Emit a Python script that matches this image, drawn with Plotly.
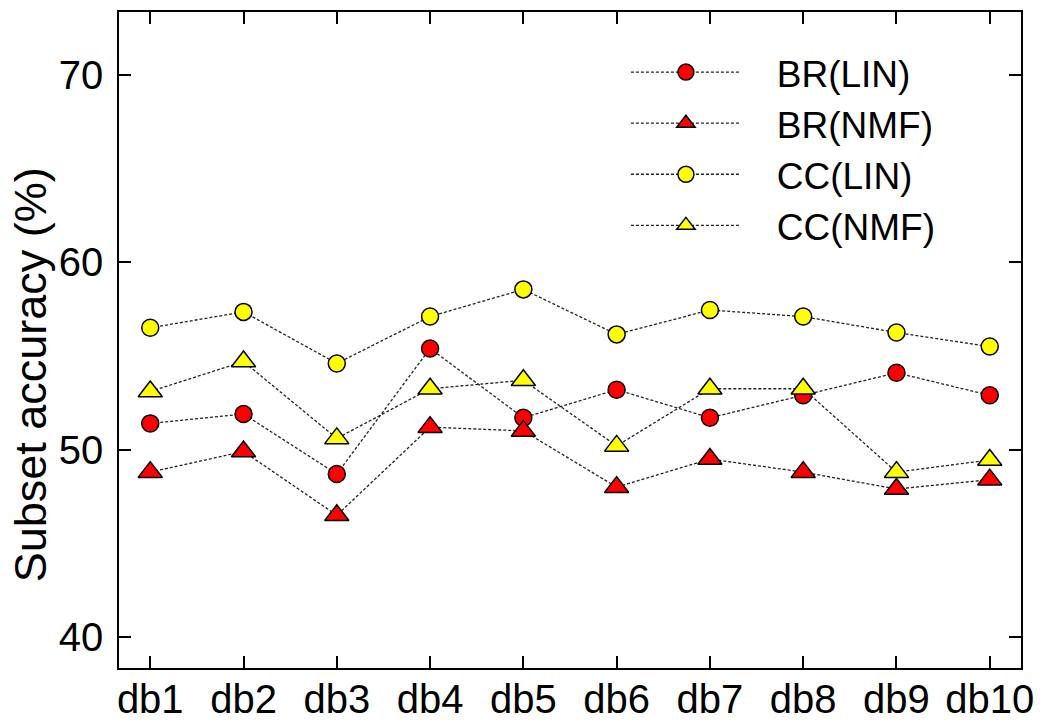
import plotly.graph_objects as go

categories = ["db1", "db2", "db3", "db4", "db5", "db6", "db7", "db8", "db9", "db10"]

br_lin = [51.4, 51.9, 48.7, 55.4, 51.7, 53.2, 51.7, 52.9, 54.1, 52.9]
br_nmf = [48.8, 49.9, 46.5, 51.2, 51.0, 48.0, 49.5, 48.8, 47.9, 48.4]
cc_lin = [56.5, 57.35, 54.6, 57.1, 58.55, 56.15, 57.45, 57.1, 56.25, 55.5]
cc_nmf = [53.1, 54.7, 50.6, 53.25, 53.7, 50.2, 53.25, 53.25, 48.8, 49.45]

series_names = ["BR(LIN)", "BR(NMF)", "CC(LIN)", "CC(NMF)"]

styles = [
    ("circle", "#FF0000", 17),
    ("triangle-up", "#FF0000", 21),
    ("circle", "#FFFF00", 17),
    ("triangle-up", "#FFFF00", 21),
]

FONT = "Liberation Sans, Arial, sans-serif"
PAD = "\u00a0\u00a0\u00a0"  # gap between legend symbol and its label

fig = go.Figure()
for name, vals, (sym, col, sz) in zip(series_names, [br_lin, br_nmf, cc_lin, cc_nmf], styles):
    fig.add_trace(go.Scatter(
        x=categories, y=vals, name=PAD + name, mode="lines+markers",
        line=dict(color="#222222", width=1.3, dash="3px,2px"),
        marker=dict(symbol=sym, size=sz, color=col,
                    line=dict(color="black", width=1.5)),
    ))

fig.update_layout(
    width=1048, height=722,
    margin=dict(l=119, r=27, t=12, b=54, autoexpand=False),
    paper_bgcolor="white", plot_bgcolor="white",
    font=dict(family=FONT, color="black", size=40),
    showlegend=True,
    legend=dict(
        x=0.562, y=0.955, xanchor="left", yanchor="top",
        bgcolor="rgba(0,0,0,0)", borderwidth=0,
        font=dict(size=37, family=FONT),
        itemwidth=110, tracegroupgap=0,
    ),
    annotations=[dict(
        text="Subset accuracy (%)", textangle=-90,
        xref="paper", yref="paper", x=-0.098, y=0.447,
        xanchor="center", yanchor="middle", showarrow=False,
        font=dict(size=45, family=FONT),
    )],
)

fig.update_xaxes(
    type="category", range=[-0.335, 9.335], automargin=False,
    showline=True, linecolor="black", linewidth=1.5, mirror="ticks",
    ticks="inside", ticklen=12, tickwidth=1.5, tickcolor="black",
    showgrid=False, zeroline=False,
    tickfont=dict(size=40, family=FONT),
    ticklabelstandoff=-5,
)
fig.update_yaxes(
    range=[38.35, 73.35], tickvals=[40, 50, 60, 70], automargin=False,
    showline=True, linecolor="black", linewidth=1.5, mirror="ticks",
    ticks="inside", ticklen=12, tickwidth=1.5, tickcolor="black",
    showgrid=False, zeroline=False,
    tickfont=dict(size=40, family=FONT),
    ticklabelstandoff=6,
)

fig.write_html(
    "out.html",
    config={"displayModeBar": False},
    post_script="document.body.style.margin='0px';"
                "document.documentElement.style.overflow='hidden';",
)
